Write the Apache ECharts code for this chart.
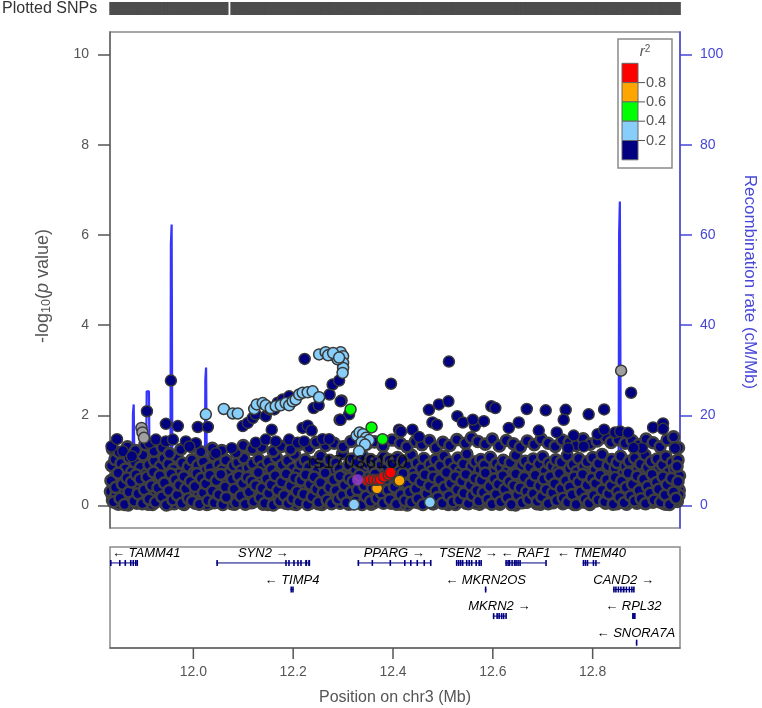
<!DOCTYPE html>
<html><head><meta charset="utf-8">
<script src="https://cdn.jsdelivr.net/npm/echarts@6/dist/echarts.min.js"></script>
<style>html,body{margin:0;padding:0;background:#fff}#c{width:762px;height:708px}</style>
</head><body><div id="c"></div><script>
// ---------- axis settings ----------
const XMIN = 11.833, XMAX = 12.975;
const xTicks = [12.0, 12.2, 12.4, 12.6, 12.8];
const yTicks = [0, 2, 4, 6, 8, 10];
const recTicks = [0, 20, 40, 60, 80, 100];
const ldBreaks = ['0.8', '0.6', '0.4', '0.2'];
const ldColors = ['#FF0000', '#FFA500', '#00FF00', '#87CEFA', '#000080'];
const indexName = 'rs17036160';

// ---------- SNPs: [position Mb, -log10 p] ----------
const bandNavy = [
[11.834,0.31],[11.836,0.88],[11.838,0.12],[11.841,0.57],[11.843,1.02],[11.845,0.24],[11.848,0.69],[11.850,0.03],[11.852,0.45],[11.855,0.93],
[11.857,0.18],[11.859,0.62],[11.862,0.36],[11.864,0.81],[11.866,0.07],[11.869,0.51],[11.871,1.06],[11.873,0.27],[11.876,0.74],[11.878,0.15],
[11.880,0.58],[11.883,0.96],[11.885,0.33],[11.887,0.05],[11.890,0.67],[11.892,0.42],[11.894,0.85],[11.897,0.20],[11.899,1.12],[11.901,0.54],
[11.904,0.09],[11.906,0.71],[11.908,0.38],[11.911,0.90],[11.913,0.26],[11.915,0.63],[11.918,0.02],[11.920,0.47],[11.922,0.99],[11.925,0.30],
[11.927,0.76],[11.929,0.13],[11.932,0.55],[11.934,0.87],[11.936,0.21],[11.939,0.40],[11.941,1.04],[11.943,0.06],[11.946,0.66],[11.948,0.34],
[11.950,0.92],[11.953,0.17],[11.955,0.59],[11.957,0.28],[11.960,0.80],[11.962,0.04],[11.964,0.49],[11.967,1.08],[11.969,0.37],[11.971,0.70],
[11.974,0.11],[11.976,0.53],[11.978,0.94],[11.981,0.25],[11.983,0.64],[11.985,0.08],[11.988,0.44],[11.990,0.86],[11.992,0.19],[11.995,0.61],
[11.997,1.01],[11.999,0.32],[12.002,0.73],[12.004,0.05],[12.006,0.50],[12.009,0.89],[12.011,0.22],[12.013,0.65],[12.016,0.14],[12.018,0.41],
[12.020,0.97],[12.023,0.29],[12.025,0.78],[12.027,0.02],[12.030,0.56],[12.032,0.35],[12.034,0.84],[12.037,0.16],[12.039,0.68],[12.041,1.10],
[12.044,0.39],[12.046,0.07],[12.048,0.60],[12.051,0.91],[12.053,0.23],[12.055,0.48],[12.058,0.79],[12.060,0.12],[12.062,0.57],[12.065,1.00],
[12.067,0.33],[12.068,0.70],[12.077,0.04],[12.078,0.46],[12.080,0.88],[12.082,0.18],[12.084,0.62],[12.087,0.27],[12.089,0.95],[12.091,0.09],
[12.094,0.52],[12.096,0.77],[12.098,0.31],[12.101,1.05],[12.103,0.14],[12.105,0.58],[12.108,0.40],[12.110,0.83],[12.112,0.06],[12.115,0.66],
[12.117,0.25],[12.119,0.93],[12.122,0.47],[12.124,0.11],[12.126,0.72],[12.129,0.35],[12.131,1.02],[12.133,0.20],[12.136,0.61],[12.138,0.86],
[12.140,0.03],[12.143,0.43],[12.145,0.69],[12.147,0.28],[12.150,0.97],[12.152,0.15],[12.154,0.54],[12.157,0.80],[12.159,0.37],[12.161,0.08],
[12.164,0.63],[12.166,1.07],[12.168,0.22],[12.171,0.49],[12.173,0.75],[12.175,0.12],[12.178,0.90],[12.180,0.32],[12.182,0.58],[12.185,0.05],
[12.187,0.44],[12.189,0.99],[12.192,0.26],[12.194,0.67],[12.196,0.17],[12.199,0.82],[12.201,0.39],[12.203,1.13],[12.206,0.02],[12.208,0.55],
[12.210,0.74],[12.213,0.30],[12.215,0.92],[12.217,0.13],[12.220,0.60],[12.222,0.41],[12.224,1.01],[12.227,0.07],[12.229,0.52],[12.231,0.85],
[12.234,0.24],[12.236,0.68],[12.238,0.10],[12.241,0.46],[12.243,0.96],[12.245,0.33],[12.248,0.77],[12.250,0.04],[12.252,0.59],[12.255,1.09],
[12.257,0.19],[12.259,0.43],[12.262,0.87],[12.264,0.28],[12.266,0.65],[12.269,0.09],[12.271,0.53],[12.273,1.00],[12.276,0.36],[12.278,0.73],
[12.280,0.14],[12.283,0.57],[12.285,0.94],[12.287,0.21],[12.290,0.47],[12.292,0.81],[12.294,0.05],[12.297,0.62],[12.299,1.15],[12.301,0.31],
[12.304,0.70],[12.306,0.16],[12.308,0.50],[12.311,0.89],[12.313,0.26],[12.315,0.66],[12.318,1.03],[12.320,0.11],[12.322,0.44],[12.325,0.78],
[12.327,0.23],[12.329,0.95],[12.332,0.38],[12.334,0.07],[12.336,0.71],[12.339,1.10],[12.341,0.29],[12.343,0.84],[12.346,0.15],[12.348,0.48],
[12.350,0.92],[12.353,0.20],[12.355,1.02],[12.357,0.34],[12.360,0.79],[12.362,0.06],[12.364,0.46],[12.367,0.97],[12.369,0.25],[12.371,0.84],
[12.374,0.12],[12.376,0.90],[12.378,0.42],[12.381,1.08],[12.383,0.18],[12.385,0.60],[12.388,0.86],[12.390,0.31],[12.392,1.01],[12.395,0.08],
[12.397,0.52],[12.399,0.93],[12.402,0.27],[12.404,0.69],[12.406,0.13],[12.409,1.06],[12.411,0.40],[12.413,0.76],[12.416,0.03],[12.418,0.58],
[12.420,0.99],[12.423,0.22],[12.425,0.64],[12.427,0.35],[12.430,0.87],[12.432,0.10],[12.434,0.53],[12.437,1.12],[12.439,0.29],[12.441,0.72],
[12.444,0.17],[12.446,0.61],[12.448,0.94],[12.451,0.06],[12.455,0.45],[12.457,0.82],[12.460,0.24],[12.462,1.04],[12.464,0.38],[12.467,0.67],
[12.469,0.11],[12.471,0.55],[12.474,0.91],[12.476,0.32],[12.478,0.76],[12.481,0.04],[12.483,0.49],[12.485,1.01],[12.488,0.20],[12.490,0.63],
[12.492,0.36],[12.495,0.88],[12.497,0.14],[12.499,0.57],[12.502,1.09],[12.504,0.27],[12.506,0.71],[12.509,0.08],[12.511,0.46],[12.513,0.96],
[12.516,0.21],[12.518,0.65],[12.520,0.39],[12.523,0.83],[12.525,0.02],[12.527,0.54],[12.530,1.05],[12.532,0.30],[12.534,0.74],[12.537,0.15],
[12.539,0.59],[12.541,0.92],[12.544,0.25],[12.546,0.43],[12.548,1.14],[12.551,0.09],[12.553,0.68],[12.555,0.35],[12.558,0.86],[12.560,0.18],
[12.562,0.51],[12.565,0.97],[12.567,0.05],[12.569,0.62],[12.572,0.28],[12.574,0.79],[12.576,1.02],[12.579,0.13],[12.581,0.47],[12.583,0.90],
[12.586,0.23],[12.588,0.66],[12.590,0.07],[12.593,0.55],[12.595,1.07],[12.597,0.34],[12.600,0.73],[12.602,0.16],[12.604,0.44],[12.607,0.93],
[12.609,0.29],[12.611,0.61],[12.614,0.03],[12.616,0.84],[12.618,0.40],[12.621,1.00],[12.623,0.19],[12.625,0.57],[12.628,0.75],[12.630,0.11],
[12.632,0.48],[12.635,0.95],[12.637,0.26],[12.639,0.69],[12.642,0.06],[12.644,0.52],[12.646,1.11],[12.649,0.33],[12.651,0.80],[12.653,0.14],
[12.656,0.60],[12.658,0.89],[12.660,0.22],[12.663,0.45],[12.665,0.98],[12.667,0.08],[12.670,0.67],[12.672,0.37],[12.674,0.85],[12.677,0.17],
[12.679,0.54],[12.681,1.03],[12.684,0.28],[12.686,0.72],[12.688,0.04],[12.691,0.49],[12.693,0.92],[12.695,0.20],[12.698,0.63],[12.700,1.08],
[12.702,0.32],[12.705,0.76],[12.707,0.12],[12.709,0.56],[12.712,0.94],[12.714,0.25],[12.716,0.41],[12.719,0.87],[12.721,0.06],[12.723,0.65],
[12.726,1.01],[12.728,0.35],[12.730,0.78],[12.733,0.15],[12.735,0.53],[12.737,0.96],[12.740,0.23],[12.742,0.69],[12.744,0.09],[12.747,0.47],
[12.749,1.10],[12.751,0.30],[12.754,0.82],[12.756,0.18],[12.758,0.59],[12.761,0.91],[12.763,0.02],[12.765,0.44],[12.768,0.75],[12.770,0.27],
[12.772,1.04],[12.775,0.13],[12.777,0.62],[12.779,0.38],[12.782,0.86],[12.784,0.07],[12.786,0.51],[12.789,0.97],[12.791,0.24],[12.793,0.68],
[12.796,0.16],[12.798,0.57],[12.800,1.06],[12.803,0.33],[12.805,0.79],[12.807,0.10],[12.810,0.46],[12.812,0.93],[12.814,0.21],[12.817,0.64],
[12.819,1.13],[12.821,0.36],[12.824,0.72],[12.826,0.05],[12.828,0.55],[12.831,0.88],[12.833,0.27],[12.835,0.61],[12.838,1.02],[12.840,0.14],
[12.842,0.49],[12.845,0.83],[12.847,0.31],[12.849,0.95],[12.852,0.08],[12.854,0.58],[12.856,1.09],[12.859,0.22],[12.861,0.70],[12.863,0.40],
[12.866,0.87],[12.868,0.03],[12.870,0.53],[12.873,0.98],[12.875,0.26],[12.877,0.66],[12.880,0.12],[12.882,0.45],[12.884,1.05],[12.887,0.34],
[12.889,0.77],[12.891,0.17],[12.894,0.60],[12.896,0.92],[12.898,0.29],[12.901,0.06],[12.903,0.71],[12.905,1.12],[12.908,0.39],[12.910,0.84],
[12.912,0.15],[12.915,0.56],[12.917,0.97],[12.919,0.24],[12.922,0.68],[12.924,0.09],[12.926,0.47],[12.929,1.03],[12.931,0.32],[12.933,0.80],
[12.936,0.19],[12.938,0.62],[12.940,0.90],[12.943,0.04],[12.945,0.51],[12.947,1.08],[12.950,0.28],[12.952,0.74],[12.954,0.13],[12.957,0.58],
[12.959,0.95],[12.961,0.36],[12.964,0.81],[12.966,0.10],[12.968,0.48],[12.971,1.01],[12.973,0.23],[12.974,0.66],[12.972,1.28],[12.969,0.87]
];
const bandNavy2 = [
[11.835,0.55],[11.840,0.08],[11.844,0.40],[11.849,0.72],[11.853,0.16],[11.858,0.47],[11.862,0.02],[11.867,0.61],[11.871,0.30],[11.876,0.52],
[11.881,0.10],[11.885,0.68],[11.889,0.26],[11.893,0.58],[11.898,0.04],[11.902,0.35],[11.907,0.63],[11.911,0.14],[11.916,0.44],[11.920,0.74],
[11.924,0.07],[11.929,0.39],[11.933,0.66],[11.937,0.19],[11.942,0.50],[11.946,0.01],[11.951,0.33],[11.955,0.70],[11.959,0.12],[11.964,0.57],
[11.968,0.23],[11.972,0.45],[11.977,0.05],[11.981,0.64],[11.985,0.37],[11.990,0.15],[11.994,0.53],[11.998,0.09],[12.003,0.42],[12.007,0.71],
[12.012,0.03],[12.016,0.60],[12.020,0.28],[12.025,0.48],[12.029,0.11],[12.033,0.67],[12.038,0.32],[12.042,0.06],[12.046,0.55],[12.051,0.24],
[12.055,0.69],[12.059,0.02],[12.064,0.41],[12.066,0.18],[12.078,0.58],[12.082,0.36],[12.086,0.06],[12.091,0.65],[12.095,0.21],[12.099,0.49],
[12.104,0.03],[12.108,0.62],[12.112,0.30],[12.117,0.54],[12.121,0.09],[12.125,0.44],[12.130,0.73],[12.134,0.17],[12.138,0.38],[12.143,0.05],
[12.147,0.59],[12.151,0.27],[12.156,0.46],[12.160,0.01],[12.164,0.66],[12.169,0.34],[12.173,0.10],[12.177,0.52],[12.182,0.22],[12.186,0.70],
[12.190,0.04],[12.195,0.43],[12.199,0.15],[12.203,0.61],[12.208,0.31],[12.212,0.08],[12.216,0.56],[12.221,0.25],[12.225,0.68],[12.229,0.02],
[12.234,0.47],[12.238,0.19],[12.242,0.63],[12.247,0.36],[12.251,0.07],[12.255,0.51],[12.260,0.28],[12.264,0.72],[12.268,0.12],[12.273,0.40],
[12.277,0.04],[12.281,0.57],[12.286,0.33],[12.290,0.14],[12.294,0.65],[12.299,0.23],[12.303,0.45],[12.307,0.06],[12.312,0.60],[12.316,0.29],
[12.320,0.53],[12.325,0.10],[12.329,0.35],[12.333,0.67],[12.338,0.02],[12.342,0.44],[12.346,0.20],[12.351,0.62],[12.355,0.09],[12.359,0.38],
[12.364,0.70],[12.368,0.16],[12.372,0.50],[12.377,0.27],[12.381,0.05],[12.385,0.58],[12.390,0.34],[12.394,0.13],[12.398,0.66],[12.403,0.41],
[12.407,0.03],[12.411,0.55],[12.416,0.24],[12.420,0.71],[12.424,0.11],[12.429,0.46],[12.433,0.30],[12.437,0.07],[12.442,0.61],[12.446,0.37],
[12.450,0.15],[12.456,0.52],[12.460,0.02],[12.464,0.68],[12.468,0.26],[12.473,0.43],[12.477,0.09],[12.481,0.63],[12.486,0.32],[12.490,0.18],
[12.494,0.57],[12.499,0.05],[12.503,0.40],[12.507,0.73],[12.512,0.21],[12.516,0.49],[12.520,0.08],[12.525,0.64],[12.529,0.35],[12.533,0.12],
[12.538,0.54],[12.542,0.27],[12.546,0.69],[12.551,0.04],[12.555,0.45],[12.559,0.22],[12.564,0.60],[12.568,0.33],[12.572,0.10],[12.577,0.56],
[12.581,0.29],[12.585,0.72],[12.590,0.14],[12.594,0.42],[12.598,0.03],[12.603,0.59],[12.607,0.25],[12.611,0.47],[12.616,0.08],[12.620,0.66],
[12.624,0.36],[12.629,0.17],[12.633,0.53],[12.637,0.02],[12.642,0.44],[12.646,0.70],[12.650,0.23],[12.655,0.39],[12.659,0.06],[12.663,0.62],
[12.668,0.31],[12.672,0.13],[12.676,0.50],[12.681,0.26],[12.685,0.67],[12.689,0.09],[12.694,0.43],[12.698,0.19],[12.702,0.58],[12.707,0.35],
[12.711,0.04],[12.715,0.64],[12.720,0.28],[12.724,0.48],[12.728,0.11],[12.733,0.71],[12.737,0.37],[12.741,0.16],[12.746,0.55],[12.750,0.07],
[12.754,0.41],[12.759,0.24],[12.763,0.63],[12.767,0.02],[12.772,0.52],[12.776,0.30],[12.780,0.69],[12.785,0.14],[12.789,0.45],[12.793,0.05],
[12.798,0.60],[12.802,0.22],[12.806,0.49],[12.811,0.12],[12.815,0.67],[12.819,0.34],[12.824,0.08],[12.828,0.57],[12.832,0.26],[12.837,0.44],
[12.841,0.03],[12.845,0.62],[12.850,0.31],[12.854,0.18],[12.858,0.54],[12.863,0.06],[12.867,0.40],[12.871,0.72],[12.876,0.21],[12.880,0.47],
[12.884,0.10],[12.889,0.65],[12.893,0.33],[12.897,0.15],[12.902,0.58],[12.906,0.04],[12.910,0.42],[12.915,0.27],[12.919,0.69],[12.923,0.12],
[12.928,0.51],[12.932,0.36],[12.936,0.07],[12.941,0.63],[12.945,0.23],[12.949,0.46],[12.954,0.02],[12.958,0.60],[12.962,0.30],[12.967,0.16],[12.971,0.53]
];
const bandNavy3 = [
[11.8375,0.22],[11.8425,0.60],[11.8465,0.05],[11.8515,0.38],[11.8555,0.14],[11.8605,0.52],[11.8645,0.29],[11.8695,0.01],[11.8735,0.46],[11.8785,0.64],
[11.8825,0.19],[11.8875,0.41],[11.8915,0.08],[11.8965,0.56],[11.9005,0.27],[11.9055,0.47],[11.9095,0.03],[11.9145,0.33],[11.9185,0.62],[11.9235,0.16],
[11.9275,0.49],[11.9325,0.24],[11.9365,0.58],[11.9415,0.10],[11.9455,0.36],[11.9505,0.54],[11.9545,0.04],[11.9595,0.31],[11.9635,0.20],[11.9685,0.63],
[11.9725,0.13],[11.9775,0.43],[11.9815,0.02],[11.9865,0.51],[11.9905,0.35],[11.9955,0.18],[11.9995,0.60],[12.0045,0.26],[12.0085,0.07],[12.0135,0.45],
[12.0175,0.15],[12.0225,0.57],[12.0265,0.39],[12.0315,0.04],[12.0355,0.50],[12.0405,0.21],[12.0445,0.62],[12.0495,0.12],[12.0535,0.34],[12.0585,0.55],
[12.0625,0.09],[12.0665,0.42],[12.0785,0.25],[12.0825,0.03],[12.0865,0.48],[12.0905,0.30],[12.0955,0.61],[12.0995,0.14],[12.1045,0.40],[12.1085,0.19],
[12.1135,0.58],[12.1175,0.06],[12.1225,0.33],[12.1265,0.52],[12.1315,0.11],[12.1355,0.46],[12.1405,0.24],[12.1445,0.63],[12.1495,0.02],[12.1535,0.37],
[12.1585,0.17],[12.1625,0.55],[12.1675,0.28],[12.1715,0.07],[12.1765,0.43],[12.1805,0.60],[12.1855,0.13],[12.1895,0.31],[12.1945,0.50],[12.1985,0.04],
[12.2035,0.39],[12.2075,0.21],[12.2125,0.57],[12.2165,0.10],[12.2215,0.44],[12.2255,0.27],[12.2305,0.62],[12.2345,0.05],[12.2395,0.35],[12.2435,0.16],
[12.2485,0.53],[12.2525,0.30],[12.2575,0.02],[12.2615,0.47],[12.2665,0.20],[12.2705,0.59],[12.2755,0.12],[12.2795,0.38],[12.2845,0.25],[12.2885,0.56],
[12.2935,0.08],[12.2975,0.42],[12.3025,0.18],[12.3065,0.61],[12.3115,0.03],[12.3155,0.36],[12.3205,0.23],[12.3245,0.49],[12.3295,0.14],[12.3335,0.30],
[12.3385,0.54],[12.3425,0.06],[12.3475,0.40],[12.3515,0.26],[12.3565,0.03],[12.3605,0.45],[12.3655,0.20],[12.3695,0.09],[12.3745,0.35],[12.3785,0.15],
[12.3835,0.48],[12.3875,0.24],[12.3925,0.56],[12.3965,0.05],[12.4015,0.37],[12.4055,0.18],[12.4105,0.62],[12.4145,0.11],[12.4195,0.43],[12.4235,0.29],
[12.4285,0.01],[12.4325,0.51],[12.4375,0.22],[12.4415,0.40],[12.4465,0.08],[12.4565,0.34],[12.4605,0.57],[12.4655,0.15],[12.4695,0.45],[12.4745,0.28],
[12.4795,0.04],[12.4835,0.60],[12.4885,0.19],[12.4925,0.39],[12.4975,0.11],[12.5015,0.53],[12.5065,0.26],[12.5105,0.02],[12.5155,0.44],[12.5195,0.17],
[12.5245,0.58],[12.5285,0.09],[12.5335,0.36],[12.5375,0.22],[12.5425,0.63],[12.5465,0.05],[12.5515,0.32],[12.5555,0.50],[12.5605,0.13],[12.5645,0.41],
[12.5695,0.24],[12.5735,0.03],[12.5785,0.55],[12.5825,0.18],[12.5875,0.38],[12.5915,0.60],[12.5965,0.10],[12.6005,0.46],[12.6055,0.27],[12.6095,0.06],
[12.6145,0.52],[12.6185,0.20],[12.6235,0.34],[12.6275,0.61],[12.6325,0.12],[12.6365,0.42],[12.6415,0.25],[12.6455,0.01],[12.6505,0.48],[12.6545,0.16],
[12.6595,0.57],[12.6635,0.30],[12.6685,0.07],[12.6725,0.44],[12.6775,0.22],[12.6815,0.59],[12.6865,0.14],[12.6905,0.36],[12.6955,0.03],[12.6995,0.50],
[12.7045,0.19],[12.7085,0.40],[12.7135,0.62],[12.7175,0.09],[12.7225,0.33],[12.7265,0.17],[12.7315,0.54],[12.7355,0.26],[12.7405,0.04],[12.7445,0.45],
[12.7495,0.21],[12.7535,0.60],[12.7585,0.11],[12.7625,0.37],[12.7675,0.28],[12.7715,0.06],[12.7765,0.49],[12.7805,0.15],[12.7855,0.58],[12.7895,0.32],
[12.7945,0.02],[12.7985,0.43],[12.8035,0.24],[12.8075,0.61],[12.8125,0.13],[12.8165,0.39],[12.8215,0.20],[12.8255,0.53],[12.8305,0.08],[12.8345,0.35],
[12.8395,0.26],[12.8435,0.57],[12.8485,0.04],[12.8525,0.44],[12.8575,0.17],[12.8615,0.62],[12.8665,0.29],[12.8705,0.10],[12.8755,0.47],[12.8795,0.23],
[12.8845,0.59],[12.8885,0.05],[12.8935,0.38],[12.8975,0.21],[12.9025,0.52],[12.9065,0.14],[12.9115,0.33],[12.9155,0.60],[12.9205,0.07],[12.9245,0.42],
[12.9295,0.25],[12.9335,0.55],[12.9385,0.12],[12.9425,0.36],[12.9475,0.03],[12.9515,0.49],[12.9565,0.19],[12.9605,0.40],[12.9655,0.61],[12.9695,0.09],[12.9735,0.34]
];
const bandTopNavy = [
[11.838,1.25],[11.851,1.18],[11.868,1.30],[11.884,1.22],[11.903,1.35],[11.921,1.20],[11.938,1.28],[11.952,1.15],[11.975,1.24],[11.998,1.30],
[12.015,1.19],[12.038,1.27],[12.057,1.22],[12.086,1.17],[12.100,1.33],[12.118,1.25],[12.137,1.29],[12.160,1.20],[12.176,1.31],[12.195,1.24],
[12.214,1.36],[12.232,1.28],[12.246,1.40],[12.265,1.33],[12.282,1.38],[12.300,1.30],[12.316,1.42],[12.347,1.36],[12.363,1.41],[12.380,1.32],
[12.398,1.45],[12.415,1.38],[12.428,1.30],[12.445,1.42],[12.458,1.35],[12.473,1.44],[12.486,1.28],[12.500,1.40],[12.514,1.33],[12.528,1.46],
[12.545,1.38],[12.557,1.50],[12.570,1.42],[12.585,1.36],[12.599,1.47],[12.613,1.32],[12.627,1.44],[12.641,1.37],[12.655,1.29],[12.669,1.43],
[12.683,1.35],[12.697,1.47],[12.711,1.38],[12.725,1.31],[12.739,1.45],[12.753,1.40],[12.767,1.33],[12.781,1.48],[12.795,1.36],[12.809,1.43],
[12.827,1.50],[12.837,1.40],[12.851,1.46],[12.865,1.38],[12.879,1.44],[12.893,1.35],[12.907,1.47],[12.921,1.39],[12.935,1.30],[12.949,1.45],[12.962,1.52]
];
const upperNavy = [
[11.836,1.31],[11.847,1.47],[11.859,1.20],[11.877,1.09],[11.907,2.09],[11.912,1.39],[11.925,1.46],[11.945,1.81],[11.955,2.77],[11.969,1.76],
[11.945,1.42],[11.959,1.46],[11.985,1.42],[12.009,1.74],[12.029,1.74],[12.005,1.38],[11.992,1.31],[12.045,1.16],[12.077,1.27],[12.099,1.76],
[12.109,1.83],[12.119,1.94],[12.125,2.02],[12.145,1.98],[12.152,2.13],[12.162,2.13],[12.157,1.68],[12.169,2.28],[12.179,2.35],[12.192,2.42],
[12.125,1.39],[12.145,1.46],[12.165,1.42],[12.192,1.46],[12.209,1.39],[12.222,1.42],[12.219,1.72],[12.229,1.77],[12.237,1.66],[12.241,2.16],
[12.251,2.22],[12.223,3.25],[12.259,1.47],[12.272,1.47],[12.273,2.46],[12.279,2.68],[12.292,2.77],[12.297,2.33],[12.293,1.90],[12.312,2.02],
[12.295,2.31],[12.295,1.90],[12.396,2.70],[12.472,2.12],[12.492,2.24],[12.511,2.31],[12.529,1.98],[12.479,1.84],[12.564,1.76],[12.597,2.20],
[12.582,1.87],[12.412,1.68],[12.439,1.68],[12.512,3.19],[12.540,1.84],[12.560,1.90],[12.416,1.64],[12.452,1.52],[12.488,1.79],
[12.605,2.16],[12.632,1.72],[12.652,1.84],[12.668,2.14],[12.692,1.66],[12.706,2.11],[12.728,1.62],[12.746,2.12],[12.742,1.90],[12.762,1.55],
[12.792,2.02],[12.810,1.58],[12.823,2.13],[12.823,1.68],[12.845,1.62],[12.855,1.64],[12.871,1.61],[12.877,2.50],[12.921,1.73],[12.941,1.82],
[12.941,1.70],[12.899,1.27],[12.782,1.31],[12.751,1.27],[12.882,1.28],[12.965,1.27]
];
const grayPts = [[11.896,1.72],[11.898,1.62],[11.901,1.50],[12.857,2.99]];
const lightBlue = [
[12.025,2.02],[12.061,2.14],[12.079,2.04],[12.089,2.04],[12.122,2.14],[12.127,2.24],[12.139,2.27],[12.145,2.22],[12.155,2.16],[12.165,2.20],
[12.175,2.22],[12.185,2.27],[12.192,2.22],[12.199,2.31],[12.205,2.35],[12.212,2.46],[12.219,2.50],[12.229,2.51],[12.239,2.53],[12.252,2.40],
[12.252,3.35],[12.265,3.40],[12.275,3.35],[12.285,3.31],[12.295,3.40],[12.300,3.31],[12.300,3.16],[12.300,3.05],[12.299,2.94],[12.289,3.24],
[12.270,3.33],[12.280,3.38],[12.292,3.28],
[12.327,1.55],[12.333,1.62],[12.340,1.58],[12.346,1.50],[12.352,1.45],[12.337,1.40],[12.344,1.35],[12.332,1.20],
[12.322,0.02],[12.474,0.07]
];
const greenPts = [[12.315,2.13],[12.357,1.73],[12.379,1.47]];
const orangePts = [[12.368,0.38],[12.413,0.55]];
const redPts = [[12.349,0.55],[12.355,0.57],[12.362,0.57],[12.369,0.57],[12.375,0.58],[12.382,0.64],[12.391,0.68],[12.395,0.73]];
const indexSnp = [[12.329,0.57]];

// ---------- recombination rate (cM/Mb) ----------
const recombMb = [11.833,11.850,11.870,11.878,11.879,11.8805,11.882,11.884,11.895,11.905,11.9065,11.9075,11.911,11.9125,11.914,11.930,11.945,11.954,11.955,11.9565,11.958,11.975,12.000,12.023,12.024,12.0255,12.027,12.029,12.060,12.120,12.200,12.280,12.350,12.420,12.500,12.580,12.650,12.720,12.790,12.840,12.852,12.853,12.8545,12.856,12.858,12.880,12.920,12.975];
const recombRate = [2.1,1.5,3.0,4.2,20.5,22.4,8.0,3.1,2.4,3.5,25.3,25.0,25.3,6.0,2.2,1.8,2.6,4.0,58.0,62.3,5.0,1.9,2.5,3.0,28.0,30.6,7.0,2.2,1.4,0.9,2.8,1.5,0.6,1.2,2.0,0.8,1.6,2.4,1.1,2.2,3.5,60.2,67.4,20.0,3.0,1.7,2.3,1.5];

// ---------- genes ----------
const geneNames  = ['TAMM41','SYN2','PPARG','TSEN2','RAF1','TMEM40','TIMP4','MKRN2OS','CAND2','MKRN2','RPL32','SNORA7A'];
const geneStart  = [11.820,12.046,12.329,12.526,12.625,12.780,12.1945,12.584,12.841,12.600,12.879,12.8865];
const geneEnd    = [11.888,12.234,12.476,12.576,12.706,12.815,12.2008,12.587,12.883,12.626,12.884,12.8868];
const geneRow    = [0,0,0,0,0,0,1,1,1,2,2,3];
const geneStrand = [-1,1,1,1,-1,-1,-1,-1,1,1,-1,-1];
const geneExons = [
 [[11.833,11.834],[11.851,11.852],[11.862,11.863],[11.873,11.875],[11.878,11.880],[11.883,11.885],[11.886,11.888]],
 [[12.046,12.047],[12.184,12.185],[12.190,12.191],[12.200,12.201],[12.208,12.209],[12.214,12.215],[12.224,12.228],[12.230,12.234]],
 [[12.329,12.3295],[12.357,12.3575],[12.393,12.3935],[12.422,12.4225],[12.434,12.4345],[12.447,12.4475],[12.461,12.4615],[12.474,12.476]],
 [[12.526,12.528],[12.530,12.532],[12.534,12.536],[12.538,12.540],[12.546,12.548],[12.551,12.553],[12.556,12.558],[12.565,12.567],[12.571,12.573],[12.575,12.576]],
 [[12.625,12.627],[12.629,12.630],[12.632,12.634],[12.637,12.640],[12.642,12.643],[12.645,12.646],[12.649,12.650],[12.653,12.654],[12.705,12.706]],
 [[12.780,12.782],[12.784,12.786],[12.788,12.790],[12.800,12.801],[12.805,12.806]],
 [[12.1945,12.196],[12.198,12.2008]],
 [[12.584,12.587]],
 [[12.841,12.843],[12.845,12.848],[12.850,12.853],[12.855,12.858],[12.860,12.864],[12.866,12.869],[12.872,12.875],[12.877,12.880],[12.881,12.883]],
 [[12.600,12.601],[12.607,12.609],[12.611,12.614],[12.616,12.618],[12.620,12.622],[12.625,12.626]],
 [[12.879,12.880],[12.881,12.882],[12.883,12.884]],
 [[12.8865,12.8868]]
];

// ---------- styling ----------
const FONT = "'Liberation Sans', Arial, sans-serif";
const GRAY = '#555555';
const BLUE = '#4646d8';
const NAVY = '#000080';
const ROW_OFF = 0.6;
const GENE_FONT = 'italic 13px ' + FONT;
const measureCtx = document.createElement('canvas').getContext('2d');

const chart = echarts.init(document.getElementById('c'), null, {renderer: 'canvas'});

function pts(name, data, color, z, extra) {
  return Object.assign({
    type: 'scatter', name: name, xAxisIndex: 0, yAxisIndex: 0, data: data,
    symbol: 'circle', symbolSize: 11, clip: false, silent: true, z: z,
    itemStyle: {color: color, borderColor: '#383838', borderWidth: 1.5, opacity: 1},
    emphasis: {disabled: true}
  }, extra || {});
}

const allSnps = [].concat(bandNavy, bandNavy2, bandNavy3, bandTopNavy, upperNavy, grayPts, lightBlue, greenPts, orangePts, redPts, indexSnp);

// legend graphics
const legendG = [];
legendG.push({type: 'rect', shape: {x: 618, y: 39, width: 54, height: 129}, style: {fill: '#fff', stroke: '#8a8a8a', lineWidth: 1.5}, z: 100});
legendG.push({type: 'text', x: 645, y: 52, z: 101, style: {text: '{r|r}{s|2}', align: 'center', verticalAlign: 'middle',
  rich: {r: {fontSize: 15, fontStyle: 'italic', fontFamily: FONT, fill: GRAY, lineHeight: 16},
         s: {fontSize: 10, fontFamily: FONT, fill: GRAY, verticalAlign: 'top', lineHeight: 10}}}});
const SW_TOP = 63.3, SW_H = 19.3;
ldColors.forEach(function (c, i) {
  legendG.push({type: 'rect', z: 101, shape: {x: 622, y: SW_TOP + i * SW_H, width: 16, height: SW_H}, style: {fill: c, stroke: '#666', lineWidth: 1}});
});
ldBreaks.forEach(function (t, i) {
  const yy = SW_TOP + (i + 1) * SW_H;
  legendG.push({type: 'line', z: 102, shape: {x1: 638, y1: yy, x2: 645, y2: yy}, style: {stroke: GRAY, lineWidth: 1}});
  legendG.push({type: 'text', z: 102, x: 646, y: yy, style: {text: t, fontSize: 14.5, fontFamily: FONT, fill: GRAY, align: 'left', verticalAlign: 'middle'}});
});

const titles = [
  {type: 'text', x: 2, y: 9, style: {text: 'Plotted SNPs', fontSize: 16, fontFamily: FONT, fill: '#333', align: 'left', verticalAlign: 'middle'}},
  {type: 'text', x: 43, y: 286, rotation: Math.PI / 2, style: {text: '{a|-log}{s|10}{a|(}{i|p}{a| value)}', align: 'center', verticalAlign: 'middle',
    rich: {a: {fontSize: 18, fontFamily: FONT, fill: GRAY, lineHeight: 20},
           s: {fontSize: 12.5, fontFamily: FONT, fill: GRAY, verticalAlign: 'bottom', lineHeight: 8},
           i: {fontSize: 18, fontFamily: FONT, fontStyle: 'italic', fill: GRAY, lineHeight: 20}}}},
  {type: 'text', x: 750, y: 282, rotation: -Math.PI / 2, style: {text: 'Recombination rate (cM/Mb)', fontSize: 17, fontFamily: FONT, fill: BLUE, align: 'center', verticalAlign: 'middle'}},
  {type: 'text', x: 395, y: 698, style: {text: 'Position on chr3 (Mb)', fontSize: 16, fontFamily: FONT, fill: GRAY, align: 'center', verticalAlign: 'middle'}}
];

const denseStyle = {itemStyle: {color: NAVY, borderColor: '#404040', borderWidth: 2.6, opacity: 1}};

const option = {
  animation: false,
  backgroundColor: '#ffffff',
  textStyle: {fontFamily: FONT},
  grid: [
    {left: 110, top: 32, width: 570, height: 496, show: true, borderColor: '#8a8a8a', borderWidth: 1.5, backgroundColor: 'transparent'},
    {left: 110, top: 547, width: 570, height: 101, show: true, borderColor: '#8a8a8a', borderWidth: 1.5, backgroundColor: 'transparent'},
    {left: 110, top: 2, width: 570, height: 13}
  ],
  xAxis: [
    {gridIndex: 0, type: 'value', min: XMIN, max: XMAX, show: false},
    {gridIndex: 1, type: 'value', min: XMIN, max: XMAX, position: 'bottom',
      axisLine: {show: true, onZero: false, lineStyle: {color: '#666', width: 1.5}},
      axisTick: {show: false},
      axisLabel: {show: true, customValues: xTicks, margin: 17, fontSize: 14, color: GRAY, fontFamily: FONT, formatter: function (v) { return v.toFixed(1); }},
      splitLine: {show: false}},
    {gridIndex: 2, type: 'value', min: XMIN, max: XMAX, show: false}
  ],
  yAxis: [
    {gridIndex: 0, type: 'value', min: -0.5, max: 10.5, position: 'left',
      axisLine: {show: true, onZero: false, lineStyle: {color: '#666', width: 1.5}},
      axisTick: {show: true, length: 12, customValues: yTicks, lineStyle: {color: GRAY, width: 1.5}},
      axisLabel: {show: true, customValues: yTicks, margin: 21, fontSize: 14, color: GRAY, fontFamily: FONT},
      splitLine: {show: false}},
    {gridIndex: 0, type: 'value', min: -5, max: 105, position: 'right',
      axisLine: {show: true, onZero: false, lineStyle: {color: BLUE, width: 1.5}},
      axisTick: {show: true, length: 12, customValues: recTicks, lineStyle: {color: BLUE, width: 1.5}},
      axisLabel: {show: true, customValues: recTicks, margin: 20, fontSize: 14, color: BLUE, fontFamily: FONT},
      splitLine: {show: false}},
    {gridIndex: 1, type: 'value', min: 0, max: 3.8, inverse: true, show: false},
    {gridIndex: 2, type: 'value', min: 0, max: 1, show: false}
  ],
  graphic: legendG.concat(titles),
  series: [
    {type: 'line', name: 'recomb', xAxisIndex: 0, yAxisIndex: 1, z: 1, silent: true,
      data: recombMb.map(function (x, i) { return [x, recombRate[i]]; }),
      symbol: 'none', lineStyle: {color: '#3535ff', width: 2.2}},
    pts('navy band', [].concat(bandNavy3, bandNavy, bandNavy2, bandTopNavy), NAVY, 2, denseStyle),
    pts('navy', upperNavy, NAVY, 2),
    pts('na', grayPts, '#a0a0a0', 3),
    pts('r2 0.2-0.4', lightBlue, '#87CEFA', 4),
    pts('r2 0.4-0.6', greenPts, '#00FF00', 5),
    pts('r2 0.6-0.8', orangePts, '#FFA500', 6),
    pts('r2 0.8-1', redPts, '#FF0000', 7),
    pts('index', indexSnp, '#9b3fc9', 8, {
      itemStyle: {color: '#9b3fc9', borderColor: '#7a2fa0', borderWidth: 0.5},
      label: {show: true, position: 'top', distance: 2, formatter: indexName, fontSize: 19, color: '#000', fontFamily: FONT}
    }),
    {type: 'scatter', name: 'rug', xAxisIndex: 2, yAxisIndex: 3, silent: true, z: 2,
      data: allSnps.map(function (p) { return [p[0], 0.5]; }),
      symbol: 'rect', symbolSize: [2.6, 13], itemStyle: {color: '#4d4d4d'}},
    {type: 'custom', name: 'genes', xAxisIndex: 1, yAxisIndex: 2, silent: true, z: 3, clip: false,
      data: geneNames.map(function (n, i) { return [geneStart[i], geneEnd[i], geneRow[i] + ROW_OFF]; }),
      encode: {x: [0, 1], y: 2},
      renderItem: function (params, api) {
        const i = params.dataIndex;
        const cs = params.coordSys;
        const L = cs.x, R = cs.x + cs.width;
        const yv = geneRow[i] + ROW_OFF;
        const p0 = api.coord([geneStart[i], yv]);
        const p1 = api.coord([geneEnd[i], yv]);
        const y = p0[1];
        const x0 = Math.max(L, p0[0]), x1 = Math.min(R, p1[0]);
        const children = [];
        children.push({type: 'line', shape: {x1: x0, y1: y, x2: x1, y2: y}, style: {stroke: NAVY, lineWidth: 1}});
        geneExons[i].forEach(function (e) {
          const a = Math.max(L, api.coord([e[0], yv])[0]);
          const b = Math.min(R, api.coord([e[1], yv])[0]);
          const w = Math.max(1.6, b - a);
          children.push({type: 'rect', shape: {x: a, y: y - 3, width: w, height: 6}, style: {fill: NAVY}});
        });
        const label = geneStrand[i] < 0 ? '\u2190 ' + geneNames[i] : geneNames[i] + ' \u2192';
        measureCtx.font = GENE_FONT;
        const tw = measureCtx.measureText(label).width;
        let cx = (p0[0] + p1[0]) / 2;
        cx = Math.max(L + 2 + tw / 2, Math.min(R - 2 - tw / 2, cx));
        children.push({type: 'text', style: {text: label, x: cx, y: y - 9.5, align: 'center', verticalAlign: 'middle', font: GENE_FONT, fill: '#000'}});
        return {type: 'group', children: children};
      }}
  ]
};
chart.setOption(option);

// x-axis tick marks under the gene panel, placed through the axis scale, on a top layer
const gridRect = chart.getModel().getComponent('grid', 1).coordinateSystem.getRect();
const tickG = xTicks.map(function (v, k) {
  let px = chart.convertToPixel({xAxisIndex: 1}, v);
  if (Array.isArray(px)) px = px[0];
  return {type: 'rect', id: 'xtick' + k, zlevel: 5, z: 500, silent: true,
    shape: {x: px - 0.75, y: gridRect.y + gridRect.height, width: 1.5, height: 11},
    style: {fill: '#555555'}};
});
chart.setOption({graphic: tickG});
</script></body></html>
